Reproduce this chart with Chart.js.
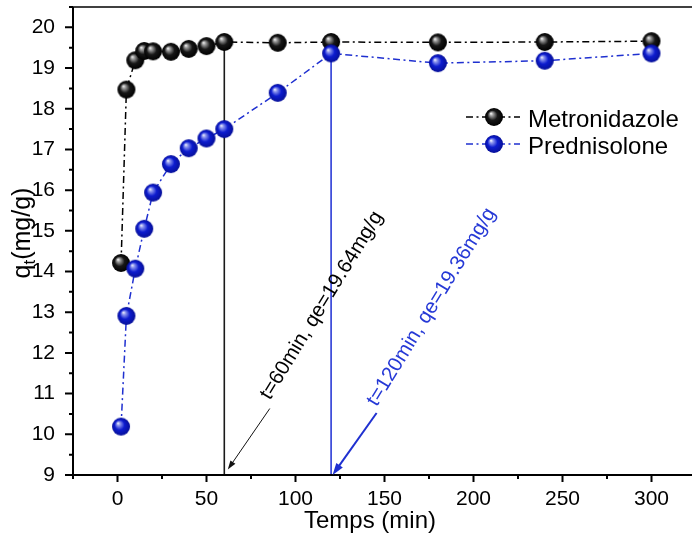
<!DOCTYPE html>
<html>
<head>
<meta charset="utf-8">
<script src="https://cdn.jsdelivr.net/npm/chart.js@4.4.0/dist/chart.umd.min.js"></script>
<style>
  html, body { margin: 0; padding: 0; overflow: hidden; background: #fff; }
  #wrap { position: relative; width: 698px; height: 538px; }
</style>
</head>
<body>
<div id="wrap"><canvas id="c" width="698" height="538"></canvas></div>
<script>
// Contact time (min) and adsorbed amount q_t (mg/g)
const times = [2, 5, 10, 15, 20, 30, 40, 50, 60, 90, 120, 180, 240, 300];
const metronidazole = [14.21, 18.47, 19.19, 19.42, 19.41, 19.40, 19.47, 19.54, 19.64, 19.62, 19.64, 19.63, 19.64, 19.66];
const prednisolone  = [10.19, 12.91, 14.07, 15.05, 15.94, 16.64, 17.03, 17.27, 17.50, 18.39, 19.36, 19.12, 19.18, 19.36];
const seriesNames = ['Metronidazole', 'Prednisolone'];

// Equilibrium time (min) and capacity (mg/g) for each drug
const eqTimes = [60, 120];
const eqValues = [19.64, 19.36];

// Axis tick labels
const xTickValues = [0, 50, 100, 150, 200, 250, 300];
const yTickValues = [9, 10, 11, 12, 13, 14, 15, 16, 17, 18, 19, 20];

const FONT = '"Liberation Sans", Arial, Helvetica, sans-serif';
Chart.defaults.font.family = FONT;

const BLUE = '#1f30d0';
const DASH = [7, 3.5, 2, 3.5];

// Shaded ball marker
function ball(light, base, dark, r) {
  const c = document.createElement('canvas');
  const s = Math.ceil(2 * r + 2);
  c.width = s; c.height = s;
  const g = c.getContext('2d');
  const cx = s / 2, cy = s / 2;
  const grad = g.createRadialGradient(cx - r * 0.35, cy - r * 0.4, 0, cx, cy, r);
  grad.addColorStop(0, '#ffffff');
  grad.addColorStop(0.2, light);
  grad.addColorStop(0.55, base);
  grad.addColorStop(1, dark);
  g.fillStyle = grad;
  g.beginPath(); g.arc(cx, cy, r, 0, Math.PI * 2); g.fill();
  return c;
}
const blackBall = ball('#9c9c9c', '#171717', '#000000', 9);
const blueBall = ball('#8d96ee', '#0d1ccf', '#060f98', 9);

function arrow(ctx, x0, y0, x1, y1, color, width, headLen, headW) {
  const a = Math.atan2(y1 - y0, x1 - x0);
  ctx.save();
  ctx.strokeStyle = color; ctx.fillStyle = color; ctx.lineWidth = width;
  ctx.beginPath();
  ctx.moveTo(x0, y0);
  ctx.lineTo(x1 - Math.cos(a) * headLen * 0.8, y1 - Math.sin(a) * headLen * 0.8);
  ctx.stroke();
  ctx.beginPath();
  ctx.moveTo(x1, y1);
  ctx.lineTo(x1 - Math.cos(a) * headLen - Math.sin(a) * headW / 2, y1 - Math.sin(a) * headLen + Math.cos(a) * headW / 2);
  ctx.lineTo(x1 - Math.cos(a) * headLen + Math.sin(a) * headW / 2, y1 - Math.sin(a) * headLen - Math.cos(a) * headW / 2);
  ctx.closePath();
  ctx.fill();
  ctx.restore();
}

function noOverhang(s) {
  s.paddingTop = 0; s.paddingBottom = 0; s.paddingLeft = 0; s.paddingRight = 0;
}

const framePlugin = {
  id: 'frame',
  beforeDatasetsDraw(chart) {
    const { ctx, scales: { x, y } } = chart;
    const colors = ['#1a1a1a', '#2b3bd6'];
    ctx.save();
    ctx.lineWidth = 1.6;
    eqTimes.forEach((t, i) => {
      ctx.strokeStyle = colors[i];
      ctx.beginPath();
      ctx.moveTo(x.getPixelForValue(t), y.getPixelForValue(eqValues[i]));
      ctx.lineTo(x.getPixelForValue(t), y.getPixelForValue(y.min));
      ctx.stroke();
    });
    ctx.restore();
  },
  afterDraw(chart) {
    const { ctx, chartArea: ca, scales: { x, y } } = chart;
    ctx.save();
    ctx.strokeStyle = '#000';
    // axes and top frame
    ctx.lineWidth = 2;
    ctx.beginPath();
    ctx.moveTo(ca.left, ca.top); ctx.lineTo(ca.left, ca.bottom); ctx.lineTo(ca.right, ca.bottom);
    ctx.stroke();
    ctx.lineWidth = 1.5;
    ctx.beginPath(); ctx.moveTo(ca.left, ca.top); ctx.lineTo(ca.right, ca.top); ctx.stroke();
    // y ticks (major + minor)
    ctx.lineWidth = 2;
    ctx.beginPath();
    yTickValues.forEach(v => {
      const py = y.getPixelForValue(v);
      ctx.moveTo(ca.left - 8, py); ctx.lineTo(ca.left, py);
      const pm = y.getPixelForValue(v + 0.5);
      ctx.moveTo(ca.left - 4, pm); ctx.lineTo(ca.left, pm);
    });
    // x ticks (major + minor)
    xTickValues.forEach(v => {
      const px = x.getPixelForValue(v);
      ctx.moveTo(px, ca.bottom); ctx.lineTo(px, ca.bottom + 7);
      [v - 25, v + 25].forEach(m => {
        const pm = x.getPixelForValue(m);
        ctx.moveTo(pm, ca.bottom); ctx.lineTo(pm, ca.bottom + 4);
      });
    });
    ctx.stroke();

    // axis titles
    ctx.fillStyle = '#000';
    ctx.font = '24px ' + FONT;
    ctx.textAlign = 'center';
    ctx.textBaseline = 'alphabetic';
    ctx.fillText('Temps (min)', 370, 528);

    ctx.save();
    ctx.translate(30, 233);
    ctx.rotate(-Math.PI / 2);
    const big = '25px ' + FONT, small = '17px ' + FONT;
    ctx.font = big; const wq = ctx.measureText('q').width;
    const wr = ctx.measureText('(mg/g)').width;
    ctx.font = small; const wt = ctx.measureText('t').width;
    let sx = -(wq + wt + wr) / 2;
    ctx.textAlign = 'left';
    ctx.font = big; ctx.fillText('q', sx, 0); sx += wq;
    ctx.font = small; ctx.fillText('t', sx, 5); sx += wt;
    ctx.font = big; ctx.fillText('(mg/g)', sx, 0);
    ctx.restore();

    // equilibrium annotations
    const ang = -58.5 * Math.PI / 180;
    const notes = [
      { color: '#111', lw: 1, head: 9, hw: 6, tip: [3.5, -5.5], tail: [42, -61], text: [94, -164] },
      { color: BLUE, lw: 2, head: 12, hw: 8, tip: [1.5, 0], tail: [44, -62], text: [99, -168] }
    ];
    ctx.font = '20.5px ' + FONT;
    eqTimes.forEach((t, i) => {
      const n = notes[i];
      const bx = x.getPixelForValue(t) + n.tip[0];
      const by = y.getPixelForValue(y.min) + n.tip[1];
      arrow(ctx, bx + n.tail[0], by + n.tail[1], bx, by, n.color, n.lw, n.head, n.hw);
      ctx.save();
      ctx.translate(bx + n.text[0], by + n.text[1]);
      ctx.rotate(ang);
      ctx.fillStyle = i === 0 ? '#000' : '#2639d6';
      ctx.textAlign = 'center';
      ctx.textBaseline = 'middle';
      ctx.fillText('t=' + t + 'min, qe=' + eqValues[i].toFixed(2) + 'mg/g', 0, 0);
      ctx.restore();
    });

    // legend
    const rows = [117, 144];
    chart.data.datasets.slice().sort((a, b) => seriesNames.indexOf(a.label) - seriesNames.indexOf(b.label)).forEach((ds, i) => {
      const ry = rows[i];
      ctx.save();
      ctx.strokeStyle = ds.borderColor;
      ctx.lineWidth = 1.5;
      ctx.setLineDash(DASH);
      ctx.beginPath(); ctx.moveTo(466, ry); ctx.lineTo(520, ry); ctx.stroke();
      ctx.restore();
      const img = ds.pointStyle;
      ctx.drawImage(img, 494 - img.width / 2, ry - img.height / 2);
      ctx.fillStyle = '#000';
      ctx.font = '24px ' + FONT;
      ctx.textAlign = 'left';
      ctx.textBaseline = 'alphabetic';
      ctx.fillText(ds.label, 528, ry + 9.5);
    });
    ctx.restore();
  }
};

const toPoints = vals => times.map((t, i) => ({ x: t, y: vals[i] }));

new Chart(document.getElementById('c'), {
  type: 'line',
  data: {
    datasets: [
      {
        label: seriesNames[0], data: toPoints(metronidazole),
        borderColor: '#000', borderWidth: 1.5, borderDash: DASH,
        pointStyle: blackBall, pointRadius: 9, tension: 0, fill: false, order: 1
      },
      {
        label: seriesNames[1], data: toPoints(prednisolone),
        borderColor: BLUE, borderWidth: 1.5, borderDash: DASH,
        pointStyle: blueBall, pointRadius: 9, tension: 0, fill: false, order: 0
      }
    ]
  },
  options: {
    responsive: false,
    animation: false,
    devicePixelRatio: 1,
    layout: { autoPadding: false, padding: { top: 7, right: 2, left: 0, bottom: 0 } },
    plugins: { legend: { display: false }, tooltip: { enabled: false } },
    scales: {
      x: {
        type: 'linear', min: -25, max: 325,
        afterBuildTicks: s => { s.ticks = xTickValues.map(v => ({ value: v })); },
        afterFit: s => { s.height = 63; noOverhang(s); },
        grid: { display: false, drawTicks: false },
        border: { display: false },
        ticks: { padding: 12, color: '#000', font: { size: 21 }, maxRotation: 0, autoSkip: false }
      },
      y: {
        type: 'linear', min: 9, max: 20.5,
        afterBuildTicks: s => { s.ticks = yTickValues.map(v => ({ value: v })); },
        afterFit: s => { s.width = 73; noOverhang(s); },
        grid: { display: false, drawTicks: false },
        border: { display: false },
        ticks: { padding: 18, color: '#000', font: { size: 21 }, autoSkip: false }
      }
    }
  },
  plugins: [framePlugin]
});
</script>
</body>
</html>
